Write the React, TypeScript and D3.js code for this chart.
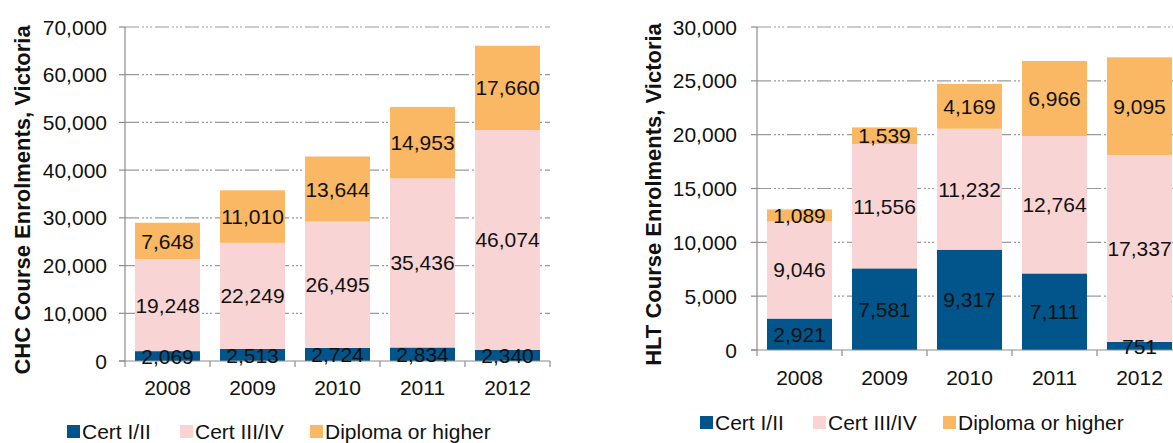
import React from "react";
import * as d3 from "d3";

const years = ["2008", "2009", "2010", "2011", "2012"];
const seriesNames = ["Cert I/II", "Cert III/IV", "Diploma or higher"];
const seriesColors = ["#02558B", "#F8D5D4", "#FAB764"];

const chcCert12 = [2069, 2513, 2724, 2834, 2340];
const chcCert34 = [19248, 22249, 26495, 35436, 46074];
const chcDiploma = [7648, 11010, 13644, 14953, 17660];

const hltCert12 = [2921, 7581, 9317, 7111, 751];
const hltCert34 = [9046, 11556, 11232, 12764, 17337];
const hltDiploma = [1089, 1539, 4169, 6966, 9095];

const chcTicks = [0, 10000, 20000, 30000, 40000, 50000, 60000, 70000];
const hltTicks = [0, 5000, 10000, 15000, 20000, 25000, 30000];

const fmt = d3.format(",");
const FONT = "'Liberation Sans', Arial, sans-serif";
const FS = 21;

type PanelProps = {
  title: string;
  data: number[][];
  ticks: number[];
  yMax: number;
  x0: number;
  x1: number;
  yTop: number;
  yBottom: number;
  titleX: number;
  tickLabelX: number;
  yearY: number;
  legendY: number;
  legendXs: number[];
  gridRight: number;
};

function Panel(p: PanelProps) {
  const x = d3.scaleBand<string>().domain(years).range([p.x0, p.x1]).paddingInner(0.235).paddingOuter(0.1175);
  const y = d3.scaleLinear().domain([0, p.yMax]).range([p.yBottom, p.yTop]);
  const rows = years.map((yr, i) => ({ year: yr, a: p.data[0][i], b: p.data[1][i], c: p.data[2][i] }));
  const stack = d3.stack<any>().keys(["a", "b", "c"])(rows as any);
  const step = x.step();
  return (
    <g>
      {p.ticks.map((t) => (
        <g key={t}>
          {t > 0 && (
            <line x1={p.x0} x2={p.gridRight} y1={y(t)} y2={y(t)} stroke="#9a9a9a" strokeWidth={1.2} strokeDasharray="14,3,2,2,2,2,2,3" />
          )}
          <line x1={p.x0 - 6} x2={p.x0} y1={y(t)} y2={y(t)} stroke="#8c8c8c" strokeWidth={1.2} />
          <text x={p.tickLabelX} y={y(t)} dy="0.36em" textAnchor="end" fontSize={FS} fontFamily={FONT} fill="#111">
            {fmt(t)}
          </text>
        </g>
      ))}
      {stack.map((s, si) =>
        s.map((d: any, i: number) => (
          <rect key={si + "-" + i} x={x(years[i])} width={x.bandwidth()} y={y(d[1])} height={y(d[0]) - y(d[1])} fill={seriesColors[si]} />
        ))
      )}
      <line x1={p.x0} x2={p.x0} y1={p.yTop} y2={p.yBottom + 6} stroke="#8c8c8c" strokeWidth={1.2} />
      <line x1={p.x0 - 6} x2={p.x1} y1={p.yBottom} y2={p.yBottom} stroke="#8c8c8c" strokeWidth={1.2} />
      {years.map((yr, i) => (
        <line key={yr} x1={p.x0 + step * (i + 1)} x2={p.x0 + step * (i + 1)} y1={p.yBottom} y2={p.yBottom + 6} stroke="#8c8c8c" strokeWidth={1.2} />
      ))}
      {stack.map((s, si) =>
        s.map((d: any, i: number) => (
          <text
            key={"l" + si + "-" + i}
            x={(x(years[i]) as number) + x.bandwidth() / 2}
            y={(y(d[0]) + y(d[1])) / 2}
            dy="0.36em"
            textAnchor="middle"
            fontSize={FS}
            fontFamily={FONT}
            fill="#111"
          >
            {fmt(d[1] - d[0])}
          </text>
        ))
      )}
      {years.map((yr) => (
        <text key={"y" + yr} x={(x(yr) as number) + x.bandwidth() / 2} y={p.yearY} dy="0.36em" textAnchor="middle" fontSize={FS} fontFamily={FONT} fill="#111">
          {yr}
        </text>
      ))}
      <text
        transform={`translate(${p.titleX},${(p.yTop + p.yBottom) / 2 + 6}) rotate(-90)`}
        dy="0.36em"
        textAnchor="middle"
        fontSize={22}
        fontWeight="bold"
        fontFamily={FONT}
        fill="#111"
      >
        {p.title}
      </text>
      {seriesNames.map((n, i) => (
        <g key={n}>
          <rect x={p.legendXs[i]} y={p.legendY - 6} width={13} height={13} fill={seriesColors[i]} />
          <text x={p.legendXs[i] + 15} y={p.legendY} dy="0.36em" fontSize={FS} fontFamily={FONT} fill="#111">
            {n}
          </text>
        </g>
      ))}
    </g>
  );
}

export default function App() {
  return (
    <svg width={1173} height={443} style={{ position: "absolute", left: 0, top: 0, background: "#fff" }}>
      <rect width={1173} height={443} fill="#fff" />
      <Panel
        title="CHC Course Enrolments, Victoria"
        data={[chcCert12, chcCert34, chcDiploma]}
        ticks={chcTicks}
        yMax={70000}
        x0={125}
        x1={550}
        yTop={27}
        yBottom={361}
        titleX={22}
        tickLabelX={107}
        yearY={387}
        legendY={431}
        legendXs={[67, 180, 310]}
        gridRight={550}
      />
      <Panel
        title="HLT Course Enrolments, Victoria"
        data={[hltCert12, hltCert34, hltDiploma]}
        ticks={hltTicks}
        yMax={30000}
        x0={757}
        x1={1182}
        yTop={27}
        yBottom={350}
        titleX={653}
        tickLabelX={737}
        yearY={377}
        legendY={422}
        legendXs={[700, 813, 943]}
        gridRight={1182}
      />
    </svg>
  );
}
